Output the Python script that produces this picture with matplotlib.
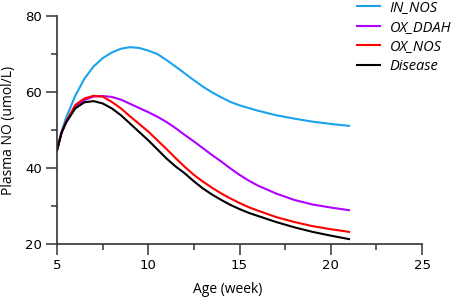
import matplotlib
matplotlib.use("Agg")
import matplotlib.pyplot as plt
from matplotlib.ticker import MultipleLocator

# values
age = [5, 5.25, 5.5, 6, 6.5, 7, 7.5, 8, 8.5, 9, 9.5, 10, 10.5, 11, 11.5, 12, 12.5,
       13, 13.5, 14, 14.5, 15, 15.5, 16, 17, 18, 19, 20, 21]
in_nos = [44.7, 49.6, 53.3, 59.0, 63.5, 66.7, 68.9, 70.4, 71.4, 71.8, 71.6, 70.9,
          70.0, 68.4, 66.7, 64.9, 63.1, 61.4, 59.9, 58.6, 57.4, 56.5, 55.8, 55.1,
          53.9, 53.0, 52.2, 51.6, 51.1]
ox_ddah = [44.7, 49.3, 52.1, 56.2, 57.9, 58.8, 58.95, 58.7, 58.0, 56.9, 55.8, 54.7,
           53.5, 52.1, 50.5, 48.7, 47.0, 45.2, 43.4, 41.7, 39.9, 38.2, 36.7, 35.4,
           33.3, 31.6, 30.4, 29.6, 28.9]
ox_nos = [44.7, 49.3, 52.2, 56.6, 58.3, 59.0, 58.8, 57.4, 55.7, 53.6, 51.6, 49.6,
          47.3, 45.0, 42.6, 40.3, 38.2, 36.4, 34.8, 33.3, 32.0, 30.8, 29.7, 28.8,
          27.1, 25.8, 24.7, 23.9, 23.2]
disease = [44.7, 49.3, 52.0, 55.7, 57.3, 57.6, 57.0, 55.7, 53.9, 51.7, 49.5, 47.3,
           44.9, 42.5, 40.4, 38.6, 36.5, 34.6, 33.0, 31.6, 30.3, 29.2, 28.2, 27.4,
           25.8, 24.4, 23.2, 22.2, 21.3]

series = [("IN_NOS", in_nos, "#1aa3ec"),
          ("OX_DDAH", ox_ddah, "#b000ff"),
          ("OX_NOS", ox_nos, "#ff0000"),
          ("Disease", disease, "#000000")]

fig = plt.figure(figsize=(4.59, 2.99), dpi=100)
ax = fig.add_axes([0.1242, 0.1839, 0.7952, 0.7625])

for name, vals, col in series:
    ax.plot(age, vals, color=col, lw=1.5, label=name, solid_joinstyle="round")

ax.set_xlim(5, 25)
ax.set_ylim(20, 80)
ax.xaxis.set_major_locator(MultipleLocator(5))
ax.xaxis.set_minor_locator(MultipleLocator(2.5))
ax.yaxis.set_major_locator(MultipleLocator(20))
ax.yaxis.set_minor_locator(MultipleLocator(10))

for s in ["top", "right"]:
    ax.spines[s].set_visible(False)
for s in ["left", "bottom"]:
    ax.spines[s].set_color("#333333")
    ax.spines[s].set_linewidth(1.2)

ax.tick_params(which="major", direction="out", length=8, width=1.1, color="#333333",
               labelsize=9.5, pad=3)
ax.tick_params(which="minor", direction="out", length=4.5, width=1.1, color="#333333")

ax.set_xlabel("Age (week)", fontsize=10, family="Open Sans")
ax.set_ylabel("Plasma NO (umol/L)", fontsize=10, family="Open Sans")
ax.xaxis.set_label_coords(0.468, -0.165)
ax.yaxis.set_label_coords(-0.112, 0.5)

leg = ax.legend(loc="upper left", bbox_to_anchor=(357 / 459, 1 - 0.5 / 299),
                bbox_transform=fig.transFigure,
                frameon=False, handlelength=1.6, handletextpad=0.65, labelspacing=0.3,
                borderaxespad=0, borderpad=0,
                prop={"family": "Open Sans", "style": "italic", "size": 10.5})

fig.savefig("out.png", dpi=100)
